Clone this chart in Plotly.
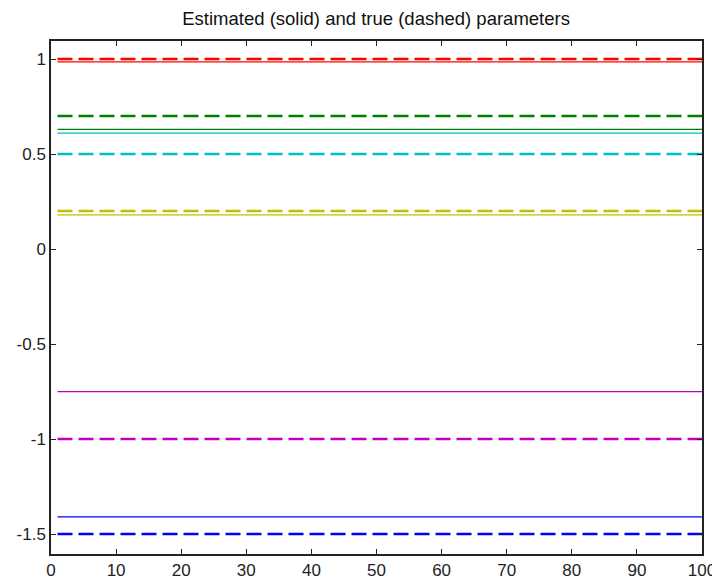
import plotly.graph_objects as go

# time steps
steps = list(range(1, 101))

# parameter names / colours (MATLAB default order)
params = ["a1", "a2", "a3", "a4", "a5", "a6"]
colors = ["#0000ff", "#008000", "#ff0000", "#00bfbf", "#bf00bf", "#bfbf00"]

# estimated (solid) and true (dashed) values
estimated = [-1.41, 0.63, 0.985, 0.61, -0.75, 0.18]
true_vals = [-1.5, 0.7, 1.0, 0.5, -1.0, 0.2]

y_ticks = [-1.5, -1, -0.5, 0, 0.5, 1]
y_ticklabels = ["-1.5", "-1", "-0.5", "0", "0.5", "1"]
x_ticks = [0, 10, 20, 30, 40, 50, 60, 70, 80, 90, 100]

fig = go.Figure()

for name, col, est in zip(params, colors, estimated):
    fig.add_trace(
        go.Scatter(
            x=steps,
            y=[est] * len(steps),
            mode="lines",
            line=dict(color=col, width=1.3),
            name=name + " est",
        )
    )

for name, col, tv in zip(params, colors, true_vals):
    fig.add_trace(
        go.Scatter(
            x=steps,
            y=[tv] * len(steps),
            mode="lines",
            line=dict(color=col, width=2.6, dash="15px,6px"),
            name=name + " true",
        )
    )

axis_style = dict(
    showgrid=False,
    zeroline=False,
    showline=True,
    linecolor="#222222",
    linewidth=1.5,
    mirror="ticks",
    ticks="inside",
    ticklen=5,
    tickcolor="#222222",
    automargin=False,
    tickfont=dict(family="Liberation Sans, Arial, sans-serif", size=17, color="#222222"),
)

# page body has an 8px default margin, so the figure is shrunk by that much
fig.update_layout(
    width=712,
    height=574,
    paper_bgcolor="white",
    plot_bgcolor="white",
    showlegend=False,
    margin=dict(l=43, r=18, t=33, b=28),
    title=dict(
        text="Estimated (solid) and true (dashed) parameters",
        x=0.517,
        xref="container",
        xanchor="center",
        yref="container",
        y=1,
        yanchor="top",
        pad=dict(t=4, b=0),
        font=dict(family="Liberation Sans, Arial, sans-serif", size=18.5, color="#111111"),
    ),
    xaxis=dict(range=[0, 100], tickvals=x_ticks, **axis_style),
    yaxis=dict(range=[-1.605, 1.095], tickvals=y_ticks, ticktext=y_ticklabels, **axis_style),
)

fig.write_html("out.html")
